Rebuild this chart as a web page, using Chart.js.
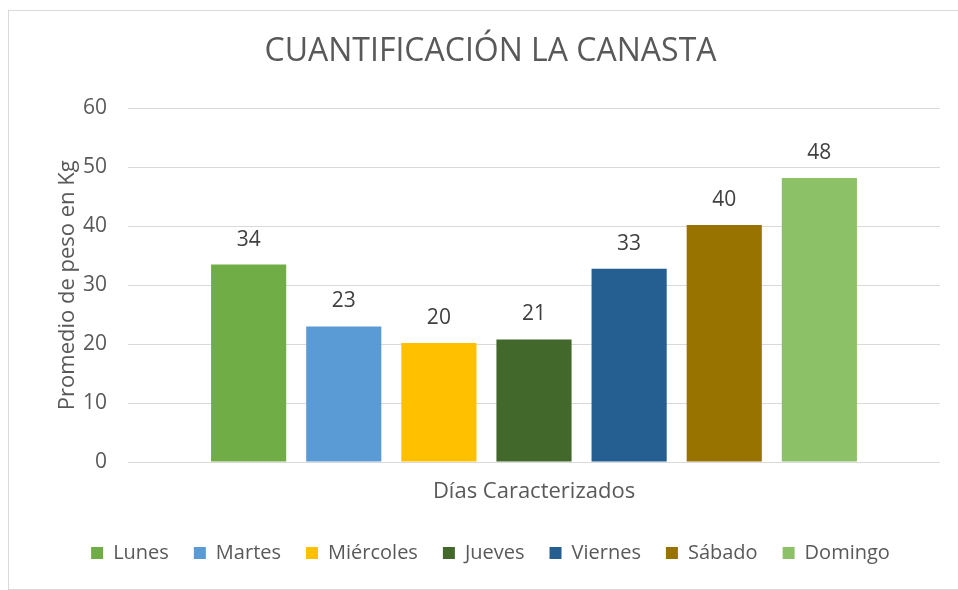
<!DOCTYPE html>
<html>
<head>
<meta charset="utf-8">
<script src="https://cdn.jsdelivr.net/npm/chart.js@4"></script>
<style>
  html, body { margin: 0; padding: 0; background: #fff; }
  #wrap { position: relative; width: 958px; height: 590px; overflow: hidden; }
  #frame { position: absolute; left: 8px; top: 10px; width: 960px; height: 580px; border: 1px solid #d9d9d9; box-sizing: border-box; }
  canvas { position: absolute; left: 0; top: 0; }
</style>
</head>
<body>
<div id="wrap">
  <div id="frame"></div>
  <canvas id="chart" width="958" height="590"></canvas>
</div>
<script>
const categories = ['Días Caracterizados'];
const days = ['Lunes', 'Martes', 'Miércoles', 'Jueves', 'Viernes', 'Sábado', 'Domingo'];
const values = [33.5, 23.0, 20.2, 20.8, 32.8, 40.2, 48.2];
const colors = ['#70AD47', '#5B9BD5', '#FFC000', '#43682B', '#255E91', '#997300', '#8CC168'];
const yTicks = [0, 10, 20, 30, 40, 50, 60];

const font = 'Open Sans';
const grey = '#595959';

// etiquetas de valor encima de cada barra
const barLabels = {
    id: 'barLabels',
    afterDatasetsDraw(chart) {
        const ctx = chart.ctx;
        ctx.save();
        ctx.font = `21px "${font}"`;
        ctx.fillStyle = '#404040';
        ctx.textAlign = 'center';
        ctx.textBaseline = 'middle';
        chart.data.datasets.forEach((ds, i) => {
            chart.getDatasetMeta(i).data.forEach((bar, j) => {
                ctx.fillText(Math.round(ds.data[j]), bar.x, bar.y - 25);
            });
        });
        ctx.restore();
    }
};

new Chart(document.getElementById('chart'), {
    type: 'bar',
    data: {
        labels: categories,
        datasets: days.map((d, i) => ({ label: d, data: [values[i]], backgroundColor: colors[i] }))
    },
    options: {
        responsive: false,
        animation: false,
        categoryPercentage: 0.82,
        barPercentage: 0.79,
        layout: { padding: { left: 41, right: 18, top: 0, bottom: 17 } },
        plugins: {
            title: { display: true, text: 'CUANTIFICACIÓN LA CANASTA', color: grey, font: { family: font, size: 32, weight: 'normal' }, padding: { top: 33, bottom: 37 } },
            legend: { position: 'bottom', labels: { boxWidth: 12, boxHeight: 12, color: grey, padding: 25, font: { family: font, size: 20 } } },
            tooltip: { enabled: false }
        },
        scales: {
            x: {
                grid: { display: false },
                border: { display: false },
                ticks: { color: grey, padding: 9, font: { family: font, size: 22 } },
                afterFit: s => { s.height = 56; }
            },
            y: {
                min: 0, max: 60,
                afterBuildTicks: s => { s.ticks = yTicks.map(v => ({ value: v })); },
                grid: { color: '#d9d9d9', drawTicks: false },
                border: { display: false },
                ticks: { color: grey, padding: 21, font: { family: font, size: 21 } },
                title: { display: true, text: 'Promedio de peso en Kg', color: grey, padding: { top: 14, bottom: 4 }, font: { family: font, size: 22 } },
                afterFit: s => { s.width = 87; }
            }
        }
    },
    plugins: [barLabels]
});
</script>
</body>
</html>
